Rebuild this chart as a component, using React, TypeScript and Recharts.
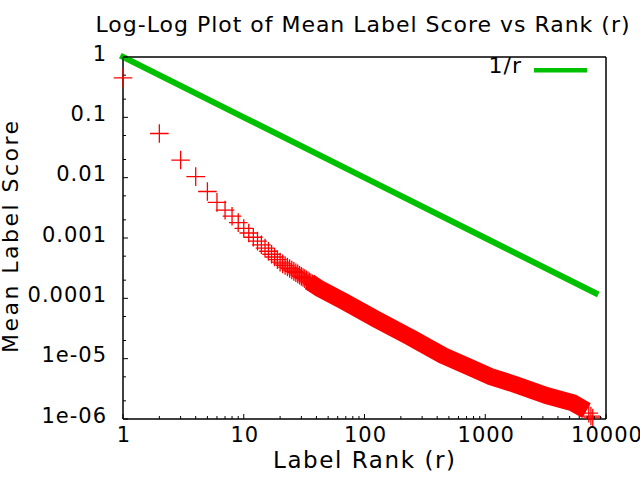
import React from "react";
import { ComposedChart, XAxis, YAxis, Line, Scatter, Legend, ReferenceArea } from "recharts";

// tick labels
const xMajor = [1, 10, 100, 1000, 10000];
const xMajorLabels = ["1", "10", "100", "1000", "10000"];
const yMajor = [1e-6, 1e-5, 1e-4, 1e-3, 1e-2, 1e-1, 1];
const yMajorLabels = ["1e-06", "1e-05", "0.0001", "0.001", "0.01", "0.1", "1"];
const xMinorSteps = [2, 3, 4, 5, 6, 7, 8, 9];
const yMinorSteps = [2, 5];

// 1/r reference line
const greenRanks = [1, 10, 100, 1000, 8200];
const greenScores = [1, 0.1, 0.01, 0.001, 0.000122];

// individual crosses (head of the curve + last few at the tail)
const crossRanks = [
  1, 2, 3, 4, 5, 6, 7, 8, 9, 10,
  11, 12, 13, 14, 15, 16, 17, 18, 19, 20,
  21, 22, 23, 24, 25, 26, 27, 28, 29, 30,
  31, 32, 33, 34, 35, 36, 37, 38, 39, 40,
  7200, 7500, 7770,
];
const crossScores = [
  0.45, 0.054, 0.0196, 0.0104, 0.0059, 0.0039, 0.0029, 0.0023, 0.0018, 0.00144,
  0.00121, 0.00103, 0.000886, 0.000772, 0.000679, 0.000603, 0.000538, 0.000484, 0.000438, 0.000398,
  0.000373, 0.000351, 0.00033, 0.000312, 0.000295, 0.00028, 0.000266, 0.000254, 0.000242, 0.000231,
  0.000221, 0.000212, 0.000203, 0.000195, 0.000188, 0.000181, 0.000174, 0.000168, 0.000162, 0.000157,
  1.25e-6, 1.12e-6, 1.04e-6,
];

// dense part of the same data, where the crosses merge into a band
const bandRanks = [35, 42, 66, 126, 237, 447, 845, 1090, 1700, 3200, 5300, 6900];
const bandScores = [
  1.87e-4, 1.47e-4, 9.1e-5, 4.45e-5, 2.29e-5, 1.13e-5, 6.4e-6, 5.1e-6, 3.84e-6, 2.45e-6, 1.86e-6, 1.38e-6,
];

const greenData = greenRanks.map((rank, i) => ({ rank, score: greenScores[i] }));
const crossData = crossRanks.map((rank, i) => ({ rank, score: crossScores[i] }));
const bandData = bandRanks.map((rank, i) => ({ rank, score: bandScores[i] }));

const xTicks: number[] = [];
xMajor.forEach((m, i) => {
  xTicks.push(m);
  if (i < xMajor.length - 1) xMinorSteps.forEach((s) => xTicks.push(m * s));
});
const yTicks: number[] = [];
yMajor.forEach((m, i) => {
  yTicks.push(m);
  if (i < yMajor.length - 1) yMinorSteps.forEach((s) => yTicks.push(m * s));
});

const FONT = "DejaVu Sans";
const RED = "#ff0000";
const GREEN = "#00c000";

// ticks point into the plot, gnuplot style; x/y of the tick props sit on the axis line
const BottomTick = (props: any) => {
  const { x, y, payload } = props;
  const i = xMajor.indexOf(payload.value);
  const len = i >= 0 ? 5 : 3;
  return (
    <g>
      <path d={`M${x},${y}V${y - len}`} stroke="#000" strokeWidth={1} />
      {i >= 0 && (
        <text x={x + 1} y={y + 23} textAnchor="middle" fontSize={21} letterSpacing={1} fontFamily={FONT} fill="#000">
          {xMajorLabels[i]}
        </text>
      )}
    </g>
  );
};

const TopTick = (props: any) => {
  const { x, y, payload } = props;
  const len = xMajor.indexOf(payload.value) >= 0 ? 5 : 3;
  return <path d={`M${x},${y}V${y + len}`} stroke="#000" strokeWidth={1} />;
};

const LeftTick = (props: any) => {
  const { x, y, payload } = props;
  const i = yMajor.indexOf(payload.value);
  const len = i >= 0 ? 5 : 3;
  return (
    <g>
      <path d={`M${x},${y}H${x + len}`} stroke="#000" strokeWidth={1} />
      {i >= 0 && (
        <text x={x - 16} y={y + 3.5} textAnchor="end" fontSize={21} letterSpacing={1} fontFamily={FONT} fill="#000">
          {yMajorLabels[i]}
        </text>
      )}
    </g>
  );
};

const RightTick = (props: any) => {
  const { x, y, payload } = props;
  const len = yMajor.indexOf(payload.value) >= 0 ? 5 : 3;
  return <path d={`M${x},${y}H${x - len}`} stroke="#000" strokeWidth={1} />;
};

const Plus = (props: any) => {
  const { cx, cy } = props;
  if (cx == null || cy == null) return null;
  const h = 9.3;
  return (
    <path
      d={`M${cx - h},${cy}H${cx + h}M${cx},${cy - h}V${cy + h}`}
      stroke={RED}
      strokeWidth={1.3}
      fill="none"
    />
  );
};

const LegendBox = (props: any) => {
  const item = (props.payload || []).find((p: any) => p.value === "1/r");
  const color = item ? item.color : GREEN;
  return (
    <svg width={150} height={40} style={{ display: "block" }}>
      <text x={62} y={28} textAnchor="end" fontSize={22} letterSpacing={1} fontFamily={FONT} fill="#000">
        1/r
      </text>
      <line x1={74} y1={25.3} x2={127} y2={25.3} stroke={color} strokeWidth={4.5} />
    </svg>
  );
};

export default function App() {
  return (
    <div style={{ position: "absolute", left: 0, top: 0, width: 640, height: 480, background: "#fff" }}>
      <ComposedChart width={640} height={480} margin={{ top: 56, right: 33, bottom: 60, left: 0 }}>
        <XAxis
          xAxisId="b"
          dataKey="rank"
          type="number"
          scale="log"
          domain={[1, 10000]}
          ticks={xTicks}
          interval={0}
          height={1}
          tickSize={0}
          tickMargin={0}
          tickLine={false}
          tick={<BottomTick />}
          axisLine={{ stroke: "#000" }}
        />
        <XAxis
          xAxisId="t"
          orientation="top"
          dataKey="rank"
          type="number"
          scale="log"
          domain={[1, 10000]}
          ticks={xTicks}
          interval={0}
          height={1}
          tickSize={0}
          tickMargin={0}
          tickLine={false}
          tick={<TopTick />}
          axisLine={{ stroke: "#000" }}
        />
        <YAxis
          yAxisId="l"
          type="number"
          scale="log"
          domain={[1e-6, 1]}
          ticks={yTicks}
          interval={0}
          width={123}
          tickSize={0}
          tickMargin={0}
          tickLine={false}
          tick={<LeftTick />}
          axisLine={{ stroke: "#000" }}
        />
        <YAxis
          yAxisId="r"
          orientation="right"
          type="number"
          scale="log"
          domain={[1e-6, 1]}
          ticks={yTicks}
          interval={0}
          width={1}
          tickSize={0}
          tickMargin={0}
          tickLine={false}
          tick={<RightTick />}
          axisLine={{ stroke: "#000" }}
        />
        <ReferenceArea
          xAxisId="b"
          yAxisId="l"
          x1={1}
          x2={10000}
          y1={1e-6}
          y2={1}
          fill="none"
          fillOpacity={0}
          stroke="#000"
          strokeWidth={1}
          ifOverflow="visible"
        />
        <Line
          xAxisId="b"
          yAxisId="l"
          data={bandData}
          dataKey="score"
          stroke={RED}
          strokeWidth={17}
          strokeLinejoin="round"
          dot={false}
          legendType="none"
          isAnimationActive={false}
        />
        <Scatter
          xAxisId="b"
          yAxisId="l"
          data={crossData}
          dataKey="score"
          shape={<Plus />}
          legendType="none"
          isAnimationActive={false}
        />
        <Line
          xAxisId="b"
          yAxisId="l"
          name="1/r"
          data={greenData}
          dataKey="score"
          stroke={GREEN}
          strokeWidth={6}
          strokeLinecap="square"
          dot={false}
          isAnimationActive={false}
        />
        <Legend
          layout="horizontal"
          verticalAlign="middle"
          align="center"
          content={<LegendBox />}
          wrapperStyle={{ left: 460, top: 45, width: 150, height: 40 }}
        />
      </ComposedChart>
      <svg
        width={640}
        height={480}
        style={{ position: "absolute", left: 0, top: 0, pointerEvents: "none" }}
        fontFamily={FONT}
      >
        <text x={362.5} y={32} textAnchor="middle" fontSize={22} textLength={534} lengthAdjust="spacing" fill="#000">
          Log-Log Plot of Mean Label Score vs Rank (r)
        </text>
        <text x={364} y={468} textAnchor="middle" fontSize={23} textLength={182} lengthAdjust="spacing" fill="#000">
          Label Rank (r)
        </text>
        <text
          transform="translate(18,237) rotate(-90)"
          textAnchor="middle"
          fontSize={22}
          textLength={232}
          lengthAdjust="spacing"
          fill="#000"
        >
          Mean Label Score
        </text>
      </svg>
    </div>
  );
}
